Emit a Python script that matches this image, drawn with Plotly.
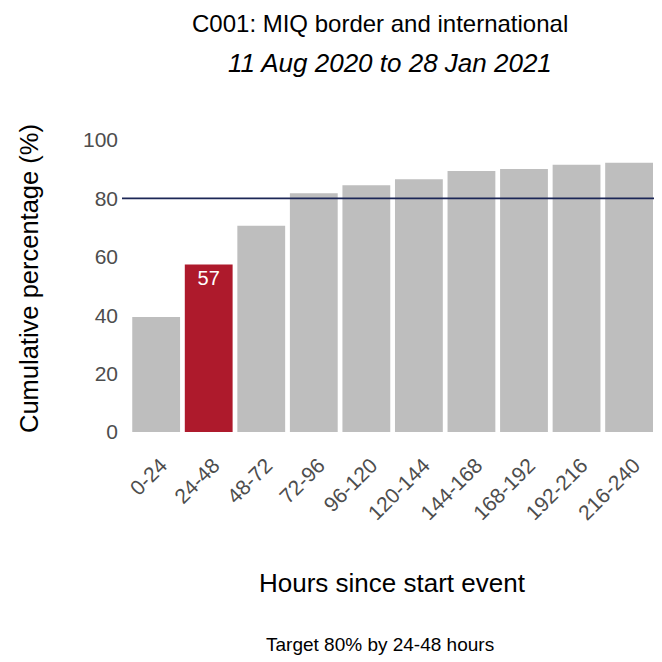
import plotly.graph_objects as go

categories = ["0-24", "24-48", "48-72", "72-96", "96-120", "120-144",
              "144-168", "168-192", "192-216", "216-240"]
cum_pct = [39.4, 57.4, 70.6, 81.8, 84.5, 86.6, 89.4, 90.1, 91.5, 92.2]
highlight = "24-48"
target = 80
y_ticks = [0, 20, 40, 60, 80, 100]

GREY = "#bebebe"
RED = "#ae1a2c"
FONT = "Liberation Sans, Arial, sans-serif"
colors = [RED if c == highlight else GREY for c in categories]
texts = [f"{round(v)}" if c == highlight else "" for c, v in zip(categories, cum_pct)]

fig = go.Figure()
fig.add_trace(go.Bar(
    x=categories, y=cum_pct, marker=dict(color=colors, line=dict(width=0)),
    text=texts, textposition="inside", insidetextanchor="end",
    textfont=dict(color="white", size=20, family=FONT),
    showlegend=False, hoverinfo="x+y",
))
fig.add_shape(type="line", xref="paper", x0=0, x1=1, yref="y", y0=target, y1=target,
              line=dict(color="#1c2757", width=1.6), layer="above")

fig.update_layout(
    width=654, height=654,
    margin=dict(l=114, r=4, t=132, b=230),
    paper_bgcolor="white", plot_bgcolor="white",
    bargap=0.09,
    font=dict(family=FONT, color="#4d4d4d"),
    xaxis=dict(range=[-0.65, 9.55], tickangle=-45, showgrid=False, showline=False,
               ticks="", ticklabelstandoff=16, ticklabelshift=5,
               tickfont=dict(size=21, color="#4d4d4d")),
    yaxis=dict(range=[0, 100], tickvals=y_ticks, showgrid=False, showline=False,
               zeroline=False, ticks="", ticklabelstandoff=3,
               tickfont=dict(size=21, color="#4d4d4d")),
    annotations=[
        dict(text="C001: MIQ border and international", xref="paper", yref="paper",
             x=0.5, y=1.0, yshift=117, xshift=-10, showarrow=False,
             xanchor="center", yanchor="middle",
             font=dict(size=24, color="black")),
        dict(text="<i>11 Aug 2020 to 28 Jan 2021</i>", xref="paper", yref="paper",
             x=0.5, y=1.0, yshift=77, xshift=0, showarrow=False,
             xanchor="center", yanchor="middle",
             font=dict(size=26, color="black")),
        dict(text="Cumulative percentage (%)", xref="paper", yref="paper",
             x=0, y=0.5, xshift=-93, yshift=7, textangle=-90, showarrow=False,
             xanchor="center", yanchor="middle",
             font=dict(size=25.5, color="black")),
        dict(text="Hours since start event", xref="paper", yref="paper",
             x=0.5, y=0, yshift=-151, xshift=2, showarrow=False,
             xanchor="center", yanchor="middle",
             font=dict(size=26, color="black")),
        dict(text="Target 80% by 24-48 hours", xref="paper", yref="paper",
             x=0.5, y=0, yshift=-212, xshift=-10, showarrow=False,
             xanchor="center", yanchor="middle",
             font=dict(size=19, color="black")),
    ],
)
fig.write_html("out.html")
